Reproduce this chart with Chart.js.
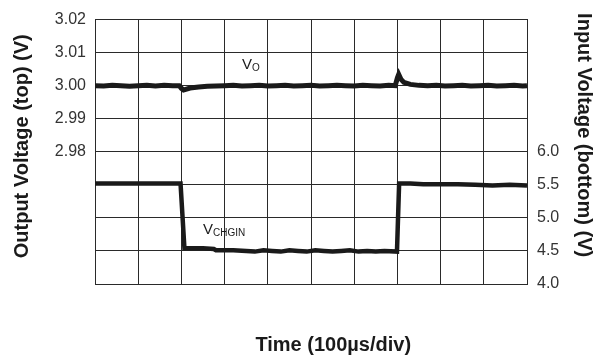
<!DOCTYPE html>
<html>
<head>
<meta charset="utf-8">
<script src="https://cdn.jsdelivr.net/npm/chart.js@4/dist/chart.umd.min.js"></script>
<style>
  html, body { margin: 0; padding: 0; background: #fff; }
  #wrap { width: 608px; height: 364px; position: relative; }
</style>
</head>
<body>
<div id="wrap"><canvas id="chart"></canvas></div>
<script>
// time in divisions (100us/div)
const voTime = [0, 0.2, 0.4, 0.6, 0.8, 1.0, 1.2, 1.4, 1.6, 1.8, 1.95, 2.0, 2.05, 2.1, 2.2, 2.4, 2.6, 2.8,
  3.0, 3.2, 3.4, 3.6, 3.8, 4.0, 4.2, 4.4, 4.6, 4.8, 5.0, 5.2, 5.4, 5.6, 5.8, 6.0, 6.2, 6.4, 6.6, 6.8, 6.95,
  7.0, 7.03, 7.08, 7.15, 7.3, 7.5, 7.7, 7.9, 8.1, 8.3, 8.5, 8.7, 8.9, 9.1, 9.3, 9.5, 9.7, 9.9, 10.0];
const voValues = [3.0000, 2.9999, 3.0001, 3.0000, 2.9998, 3.0000, 3.0001, 2.9999, 3.0001, 3.0000, 3.0000, 2.9992, 2.9987, 2.9989, 2.9993, 2.9996, 2.9998, 2.9999,
  3.0000, 3.0001, 2.9999, 3.0000, 3.0001, 2.9999, 3.0000, 3.0001, 2.9999, 3.0000, 3.0001, 2.9999, 3.0000, 3.0001, 3.0000, 2.9999, 3.0001, 3.0000, 2.9999, 3.0001, 3.0000,
  3.0024, 3.0034, 3.0020, 3.0010, 3.0004, 3.0001, 3.0000, 3.0001, 2.9999, 3.0000, 3.0001, 2.9999, 3.0000, 3.0001, 2.9999, 3.0000, 3.0001, 2.9999, 3.0000];

const vinTime = [0, 1.0, 1.98, 2.07, 2.5, 2.75, 2.8, 3.2, 3.5, 3.7, 3.9, 4.1, 4.3, 4.5, 4.7, 4.9, 5.1, 5.3,
  5.5, 5.7, 5.9, 6.1, 6.3, 6.5, 6.7, 6.99, 7.04, 7.3, 7.6, 8.0, 8.4, 8.8, 9.2, 9.6, 10.0];
const vinValues = [5.52, 5.52, 5.52, 4.54, 4.54, 4.53, 4.51, 4.51, 4.50, 4.49, 4.51, 4.50, 4.49, 4.51, 4.50, 4.49, 4.51, 4.50,
  4.49, 4.50, 4.51, 4.49, 4.50, 4.49, 4.50, 4.49, 5.52, 5.52, 5.51, 5.51, 5.51, 5.50, 5.49, 5.50, 5.49];

const voTicks = [2.94, 2.95, 2.96, 2.97, 2.98, 2.99, 3.00, 3.01, 3.02];
const voTickLabels = ['', '', '', '', '2.98', '2.99', '3.00', '3.01', '3.02'];
const vinTicks = [4.0, 4.5, 5.0, 5.5, 6.0, 6.5, 7.0, 7.5, 8.0];
const vinTickLabels = ['4.0', '4.5', '5.0', '5.5', '6.0', '', '', '', ''];

const FONT = '"Liberation Sans", Arial, Helvetica, sans-serif';
const INK = '#1a1a1a';
const GRID = '#2a2a2a';

// trace name labels: [main, subscript, x (div), y (axis value), axis]
const traceLabels = [
  ['V', 'O', 3.4, 3.0052, 'y'],
  ['V', 'CHGIN', 2.5, 4.755, 'y2']
];

const traceLabelPlugin = {
  id: 'traceLabels',
  afterDatasetsDraw(chart) {
    const ctx = chart.ctx;
    ctx.save();
    ctx.fillStyle = INK;
    ctx.textBaseline = 'alphabetic';
    ctx.textAlign = 'left';
    traceLabels.forEach(([main, sub, x, y, axis]) => {
      const px = chart.scales.x.getPixelForValue(x);
      const py = chart.scales[axis].getPixelForValue(y);
      ctx.font = '15px ' + FONT;
      ctx.fillText(main, px, py);
      const w = ctx.measureText(main).width;
      ctx.font = '10px ' + FONT;
      ctx.fillText(sub, px + w, py + 2);
    });
    ctx.restore();
  }
};

const titleFont = { family: FONT, size: 20, weight: 'bold' };

new Chart(document.getElementById('chart'), {
  type: 'line',
  data: {
    datasets: [
      {
        label: 'VO',
        data: voTime.map((t, i) => ({ x: t, y: voValues[i] })),
        yAxisID: 'y',
        borderColor: INK,
        borderWidth: 5,
        pointRadius: 0,
        tension: 0
      },
      {
        label: 'VCHGIN',
        data: vinTime.map((t, i) => ({ x: t, y: vinValues[i] })),
        yAxisID: 'y2',
        borderColor: INK,
        borderWidth: 4.5,
        pointRadius: 0,
        tension: 0
      }
    ]
  },
  options: {
    responsive: true,
    maintainAspectRatio: false,
    animation: false,
    layout: { padding: { top: 14, left: 0, right: 0, bottom: 0 } },
    plugins: { legend: { display: false }, tooltip: { enabled: false } },
    scales: {
      x: {
        type: 'linear',
        min: 0,
        max: 10,
        ticks: { display: false, stepSize: 1 },
        grid: { color: GRID, lineWidth: 1, drawTicks: false },
        border: { color: GRID },
        title: {
          display: true,
          text: '\u00a0\u00a0\u00a0\u00a0\u00a0\u00a0\u00a0\u00a0Time (100µs/div)',
          color: INK,
          font: titleFont,
          padding: { top: 0, bottom: 7 }
        },
        afterFit(scale) { scale.height = 80; }
      },
      y: {
        position: 'left',
        min: 2.94,
        max: 3.02,
        afterBuildTicks(scale) { scale.ticks = voTicks.map(v => ({ value: v })); },
        ticks: {
          padding: 9,
          color: '#333',
          font: { family: FONT, size: 16 },
          callback: (v, i) => voTickLabels[i]
        },
        grid: { color: GRID, lineWidth: 1, drawTicks: false },
        border: { color: GRID },
        title: {
          display: true,
          text: '\u00a0\u00a0Output Voltage (top) (V)',
          color: INK,
          font: titleFont,
          padding: { top: 10, bottom: 0 }
        },
        afterFit(scale) { scale.width = 95; }
      },
      y2: {
        position: 'right',
        min: 4.0,
        max: 8.0,
        afterBuildTicks(scale) { scale.ticks = vinTicks.map(v => ({ value: v })); },
        ticks: {
          padding: 10,
          color: '#333',
          font: { family: FONT, size: 16 },
          callback: (v, i) => vinTickLabels[i]
        },
        grid: { drawOnChartArea: false, drawTicks: false },
        border: { color: GRID },
        title: {
          display: true,
          text: 'Input Voltage (bottom) (V)\u00a0\u00a0\u00a0\u00a0\u00a0\u00a0',
          color: INK,
          font: titleFont,
          padding: { top: 12, bottom: 0 }
        },
        afterFit(scale) { scale.width = 81; }
      }
    }
  },
  plugins: [traceLabelPlugin]
});
</script>
</body>
</html>
